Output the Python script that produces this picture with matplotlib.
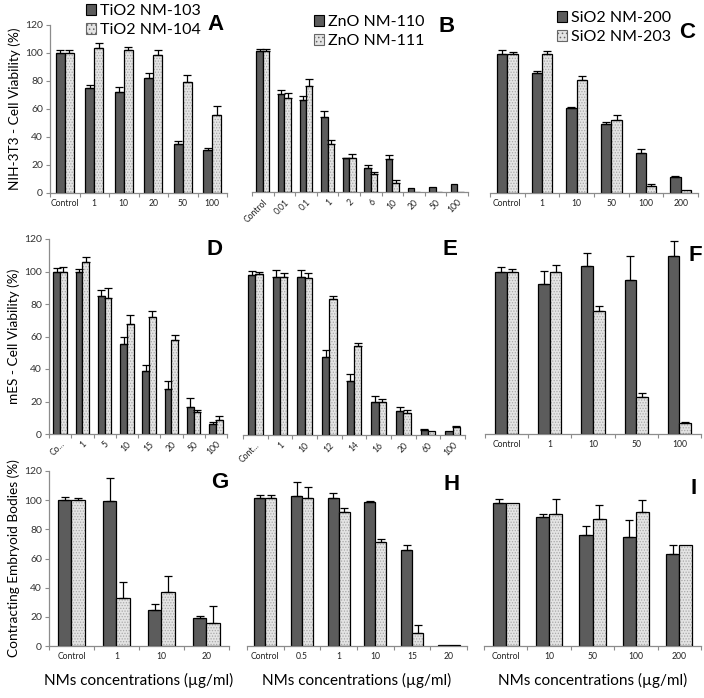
import matplotlib
matplotlib.use("Agg")
import matplotlib.pyplot as plt
import numpy as np
from matplotlib.patches import Patch

plt.rcParams['font.family'] = ['Lato', 'DejaVu Sans']
plt.rcParams['hatch.linewidth'] = 0.6

# ---------------- data ----------------
A_cats = ["Control", "1", "10", "20", "50", "100"]
A_s1 = [100, 75, 72, 82, 35, 31]
A_e1 = [2, 2, 3.5, 3.5, 2, 1.5]
A_s2 = [100, 103.5, 102, 98.5, 79, 56]
A_e2 = [2, 3.5, 2.5, 4, 5, 6]

B_cats = ["Control", "0.01", "0.1", "1", "2", "6", "10", "20", "50", "100"]
B_s1 = [101, 70, 65.5, 53.5, 24, 17, 23.5, 2.6, 3.8, 5.4]
B_e1 = [1.5, 2.8, 2.8, 4.7, 0.6, 2, 2.8, 0, 0, 0]
B_s2 = [101, 67.5, 76, 34.5, 24, 12.7, 6.5, 0, 0, 0]
B_e2 = [1.5, 3, 4.5, 2.6, 2.8, 1.9, 1.9, 0, 0, 0]

C_cats = ["Control", "1", "10", "50", "100", "200"]
C_s1 = [99.5, 85.5, 60.5, 49, 28.5, 11.5]
C_e1 = [2.8, 2, 0.7, 1.7, 2.6, 1]
C_s2 = [99.5, 99.5, 81, 52.5, 5.3, 2.4]
C_e2 = [1, 1.7, 2.6, 2.9, 1, 0]

D_cats = ["Co...", "1", "5", "10", "15", "20", "50", "100"]
D_s1 = [100, 99.5, 85, 55.5, 38.5, 28, 16.5, 6]
D_e1 = [2.3, 2.2, 3.5, 3.9, 4.1, 4.5, 5.5, 1.2]
D_s2 = [100, 106, 84, 68, 72, 58, 13.5, 8.5]
D_e2 = [2.5, 3, 6, 5, 4, 3, 1, 2.5]

E_cats = ["Cont...", "1", "10", "12", "14", "16", "20", "60", "100"]
E_s1 = [98.5, 97.5, 97, 48, 33, 20.5, 15, 3.2, 2.5]
E_e1 = [2.5, 4, 4.5, 4.5, 4.5, 3.3, 2.3, 0.5, 0]
E_s2 = [99, 97.5, 96.5, 84, 55, 20.5, 13.5, 2.6, 4.8]
E_e2 = [1.5, 2.5, 3.5, 1.6, 1.4, 1.8, 1.8, 0, 0.5]

F_cats = ["Control", "1", "10", "50", "100"]
F_s1 = [100, 92.5, 103.5, 95, 109.5]
F_e1 = [2.5, 7.8, 7.6, 14.3, 9.2]
F_s2 = [100, 99.5, 75.5, 22.5, 6.5]
F_e2 = [1.6, 4.7, 3.3, 2.5, 0.8]

G_cats = ["Control", "1", "10", "20"]
G_s1 = [100, 99.5, 25, 19]
G_e1 = [2.5, 16, 3.5, 1.6]
G_s2 = [100, 33, 37, 15.5]
G_e2 = [1.5, 11, 11, 12]

H_cats = ["Control", "0.5", "1", "10", "15", "20"]
H_s1 = [101.5, 103, 101.5, 99, 65.5, 0.5]
H_e1 = [1.8, 9.6, 3.4, 0.4, 3.7, 0]
H_s2 = [101.5, 101.5, 92, 71.5, 9, 0.5]
H_e2 = [1.8, 7.8, 2.5, 1.8, 5.3, 0]

I_cats = ["Control", "10", "50", "100", "200"]
I_s1 = [98, 88.5, 76, 75, 63]
I_e1 = [2.7, 1.8, 6.4, 11.4, 6.2]
I_s2 = [98, 90.5, 87, 92, 69.5]
I_e2 = [0, 10.5, 10, 7.8, 0]

legend_A = ["TiO2 NM-103", "TiO2 NM-104"]
legend_B = ["ZnO NM-110", "ZnO NM-111"]
legend_C = ["SiO2 NM-200", "SiO2 NM-203"]

ylabel_top = "NIH-3T3 - Cell Viability (%)"
ylabel_mid = "mES - Cell Viability (%)"
ylabel_bot = "Contracting Embryoid Bodies (%)"
xlabel = "NMs concentrations (µg/ml)"

DARK = "#5c5c5c"
LIGHT = "#e4e4e4"
HATCHC = "#a8a8a8"
AXC = "#8c8c8c"

W, H = 704, 698
fig = plt.figure(figsize=(W / 100, H / 100), dpi=100)


def add_axes(left, right, y0, ytop):
    # pixel coords -> figure fraction ; ytop = pixel where 120 lies
    return fig.add_axes([left / W, 1 - y0 / H, (right - left) / W, (y0 - ytop) / H])


def panel(ax, cats, s1, e1, s2, e2, letter, lpos, rot=False, yaxis=False, ylabel=None,
          xlab=False, bw=0.3):
    n = len(cats)
    x = np.arange(n)
    ax.bar(x - bw / 2, s1, bw, color=DARK, edgecolor="black", linewidth=0.9, zorder=2)
    ax.bar(x + bw / 2, s2, bw, color=LIGHT, edgecolor=HATCHC, hatch="......",
           linewidth=0, zorder=2)
    ax.bar(x + bw / 2, s2, bw, color="none", edgecolor="black", linewidth=0.9, zorder=3)
    for off, vals, errs in ((-bw / 2, s1, e1), (bw / 2, s2, e2)):
        xs = [xi + off for xi, e in zip(x, errs) if e > 0]
        vs = [v for v, e in zip(vals, errs) if e > 0]
        es = [e for e in errs if e > 0]
        if xs:
            ax.errorbar(xs, vs, yerr=[np.zeros(len(es)), es], fmt="none",
                        ecolor="black", elinewidth=0.9, capsize=2.6, capthick=0.9,
                        zorder=4)
    ax.set_xlim(-0.5, n - 0.5)
    ax.set_ylim(0, 120)
    for s in ("top", "right"):
        ax.spines[s].set_visible(False)
    ax.spines["bottom"].set_color(AXC)
    ax.spines["bottom"].set_linewidth(0.9)
    ax.set_xticks(x)
    ax.set_xticks(np.arange(n + 1) - 0.5, minor=True)
    ax.tick_params(axis="x", which="major", length=0, pad=4)
    ax.tick_params(axis="x", which="minor", length=3, color=AXC, width=0.8)
    if rot:
        ax.set_xticklabels(cats, rotation=45, ha="right", rotation_mode="anchor",
                           fontsize=6.2, color="#222222")
    else:
        ax.set_xticklabels(cats, fontsize=6.2, color="#222222")
    if yaxis:
        ax.spines["left"].set_color(AXC)
        ax.spines["left"].set_linewidth(0.9)
        ax.set_yticks(np.arange(0, 121, 20))
        ax.tick_params(axis="y", length=3, color=AXC, labelsize=7.5,
                       labelcolor="#333333", pad=2)
        if ylabel:
            ax.set_ylabel(ylabel, fontsize=9.8, labelpad=3)
    else:
        ax.spines["left"].set_visible(False)
        ax.set_yticks([])
    if xlab:
        ax.set_xlabel(xlabel, fontsize=11, labelpad=9)
    fig.text(lpos[0] / W, 1 - lpos[1] / H, letter, fontsize=16,
             fontweight="bold", ha="center", va="center", family="Liberation Sans")


axA = add_axes(50, 227, 193, 25)
axB = add_axes(252, 468, 192, 24)
axC = add_axes(490, 698, 193, 25)
axD = add_axes(49, 227, 434, 239)
axE = add_axes(243, 465, 435, 240)
axF = add_axes(485, 701, 434, 239)
axG = add_axes(49, 229, 646, 471)
axH = add_axes(247, 467, 646, 471)
axI = add_axes(484, 701, 646, 471)

panel(axA, A_cats, A_s1, A_e1, A_s2, A_e2, "A", (216, 25), yaxis=True, ylabel=ylabel_top)
panel(axB, B_cats, B_s1, B_e1, B_s2, B_e2, "B", (447, 26), rot=True)
panel(axC, C_cats, C_s1, C_e1, C_s2, C_e2, "C", (687, 32))
panel(axD, D_cats, D_s1, D_e1, D_s2, D_e2, "D", (214, 249), rot=True, yaxis=True,
      ylabel=ylabel_mid)
panel(axE, E_cats, E_s1, E_e1, E_s2, E_e2, "E", (450, 249), rot=True)
panel(axF, F_cats, F_s1, F_e1, F_s2, F_e2, "F", (695, 255), bw=0.27)
panel(axG, G_cats, G_s1, G_e1, G_s2, G_e2, "G", (220, 483), yaxis=True,
      ylabel=ylabel_bot, xlab=True)
panel(axH, H_cats, H_s1, H_e1, H_s2, H_e2, "H", (452, 485), xlab=True)
panel(axI, I_cats, I_s1, I_e1, I_s2, I_e2, "I", (694, 488), xlab=True)


def legend(labels, px, py):
    handles = [Patch(facecolor=DARK, edgecolor="black", linewidth=0.8),
               Patch(facecolor=LIGHT, edgecolor="#666666", hatch="....", linewidth=0.8)]
    fig.legend(handles, labels, loc="upper left", bbox_to_anchor=(px / W, 1 - py / H),
               frameon=False, fontsize=11.5, handlelength=0.65, handleheight=0.65,
               handletextpad=0.2, labelspacing=0.3, borderpad=0, borderaxespad=0)


legend(legend_A, 86, 4)
legend(legend_B, 314, 15)
legend(legend_C, 557, 11)

fig.savefig("out.png", dpi=100)
